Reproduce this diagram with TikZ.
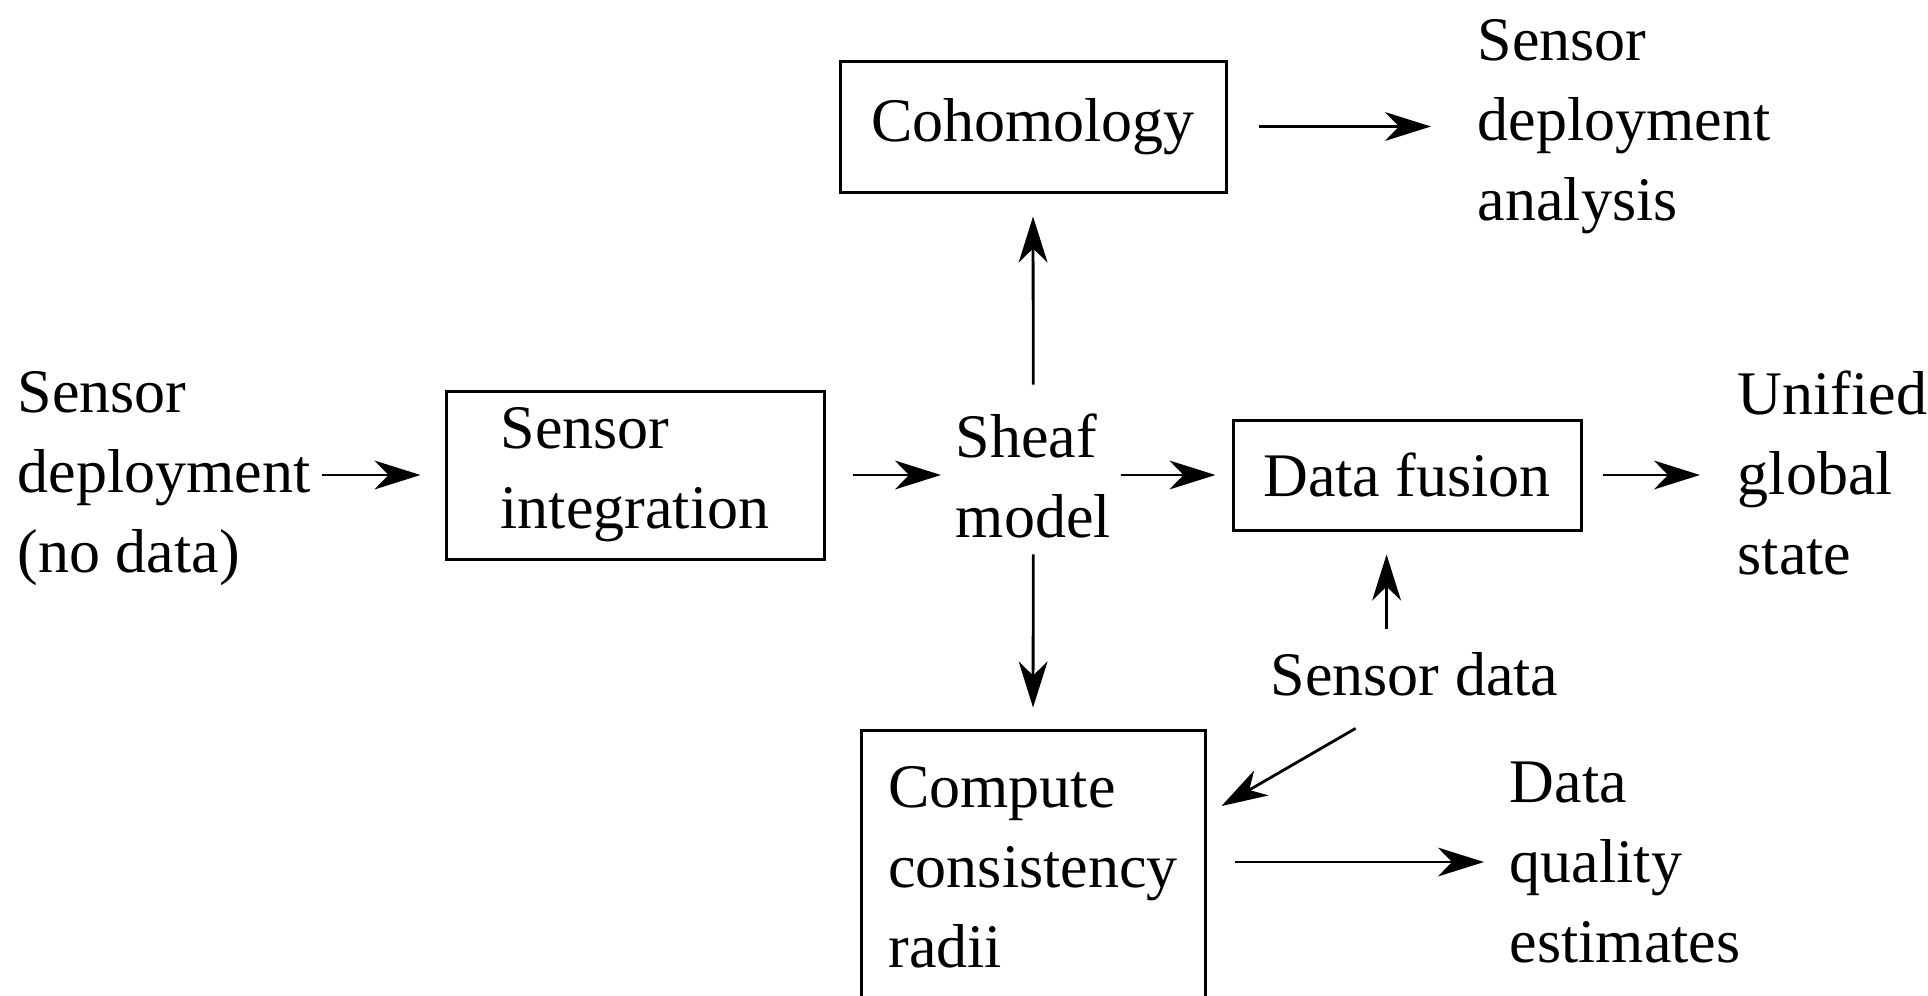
\documentclass[tikz,border=0pt]{standalone}
\usepackage{fontspec}
\setmainfont{Liberation Serif}
\usetikzlibrary{arrows.meta}
\begin{document}
\begin{tikzpicture}[x=.25pt,y=-.25pt,
  font=\fontsize{15.5}{20}\selectfont,
  box/.style={draw,line width=.75pt,align=left,inner sep=0pt},
  txt/.style={align=left,inner sep=0pt,anchor=base west},
  arr/.style={line width=.7pt,-{Stealth[length=11.5pt,width=7.2pt,inset=3.5pt]}}]
\useasboundingbox (0,0) rectangle (1928,996);
\node[txt] (in) at (17,572) {Sensor\\deployment\\(no data)};
\node[box,minimum width=94.5pt,minimum height=42pt] (integ) at (635,475) {Sensor\\integration};
\node[txt] (sheaf) at (955,537) {Sheaf\\model};
\node[box,minimum width=96.5pt,minimum height=32.75pt] (coh) at (1033,126.5) {Cohomology};
\node[txt] (anal) at (1477,220) {Sensor\\deployment\\analysis};
\node[box,minimum width=87pt,minimum height=27.5pt] (fus) at (1407,475) {Data fusion};
\node[txt] (unif) at (1737,574) {Unified\\global\\state};
\node[txt] (sdata) at (1270,695) {Sensor data};
\node[box,minimum width=86pt,minimum height=68.75pt] (comp) at (1033,867.5) {Compute\\consistency\\radii};
\node[txt] (qual) at (1509,962) {Data\\quality\\estimates};
\draw[arr,shorten <=2.75pt,shorten >=6pt] (in.east |- integ.west) -- (integ.west);
\draw[arr,shorten <=6.75pt,shorten >=3.5pt] (integ.east) -- (integ.east -| sheaf.west);
\draw[arr,shorten <=2.25pt,shorten >=4pt] (sheaf.east |- fus.west) -- (fus.west);
\draw[arr,shorten <=5pt,shorten >=9.25pt] (fus.east) -- (fus.east -| unif.west);
\draw[arr,shorten <=7pt,shorten >=5.75pt] (sheaf.north) -- (coh.south);
\draw[arr,shorten <=4pt,shorten >=5.25pt] (sheaf.south) -- (comp.north);
\draw[arr,shorten <=7.75pt,shorten >=11.5pt] (coh.east) -- (coh.east -| anal.west);
\draw[arr,shorten <=5.5pt,shorten >=5.75pt] ([xshift=-7pt]sdata.north) -- ([xshift=-7pt]sdata.north |- fus.south);
\draw[arr] ([shift={(-59,32)}]sdata.south) -- ([shift={(15,-61.5)}]comp.east);
\draw[arr,shorten <=7pt,shorten >=6.25pt] (comp.east |- qual.west) -- (qual.west);
\end{tikzpicture}
\end{document}
